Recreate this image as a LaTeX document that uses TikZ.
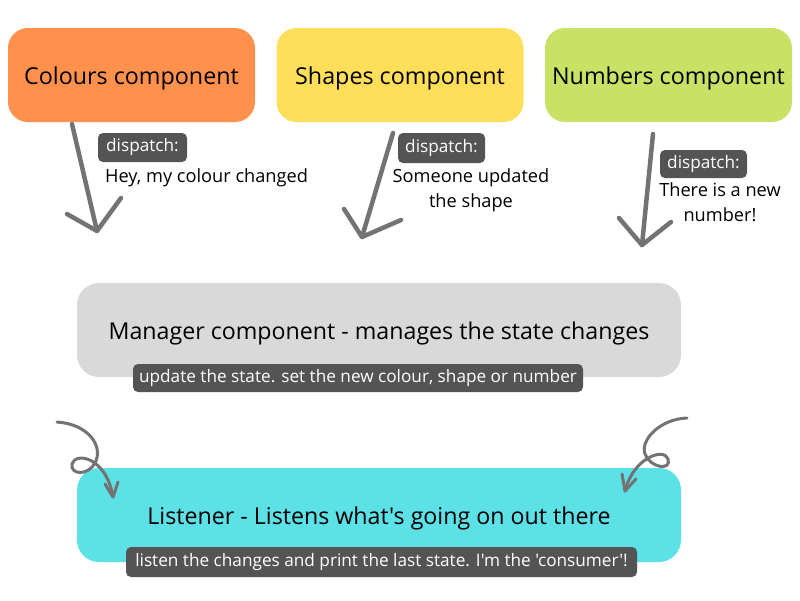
\documentclass[tikz,border=0pt]{standalone}
\usepackage{fontspec}
\setmainfont{Open Sans}[Ligatures=TeXOff]
\definecolor{corange}{HTML}{FF914D}
\definecolor{cyellow}{HTML}{FFDE59}
\definecolor{cgreen}{HTML}{C9E265}
\definecolor{cgray}{HTML}{D9D9D9}
\definecolor{ccyan}{HTML}{5CE1E6}
\definecolor{cdark}{HTML}{545454}
\definecolor{carrow}{HTML}{737373}
\begin{document}
\begin{tikzpicture}[x=1pt,y=-1pt,
  topbox/.style={rounded corners=20pt,minimum width=247pt,minimum height=94pt,inner sep=0pt,text depth=0pt,font=\fontsize{23.3}{28}\selectfont},
  widebox/.style={rounded corners=22pt,minimum width=604pt,minimum height=94pt,inner sep=0pt,text depth=0pt,font=\fontsize{23.2}{28}\selectfont},
  tag/.style={fill=cdark,text=white,rounded corners=5pt,inner sep=0pt,font=\fontsize{17.2}{20}\selectfont},
  msg/.style={align=center,inner sep=0pt,font=\fontsize{18.2}{25}\selectfont},
  brush/.style={draw=carrow,line width=4.5pt,line cap=round,line join=round},
  curl/.style={draw=carrow,line width=3pt,line cap=round,line join=round}]
\useasboundingbox (0,0) rectangle (800,600);
\fill[white] (0,0) rectangle (800,600);
% top boxes
\node[topbox,fill=corange] (colours) at (131.5,75) {\raisebox{-2pt}{Colours component}};
\node[topbox,fill=cyellow] (shapes) at (400,75) {\raisebox{-2pt}{Shapes component}};
\node[topbox,fill=cgreen] (numbers) at (668.5,75) {\raisebox{-2pt}{Numbers component}};
% manager and listener
\node[widebox,fill=cgray] (manager) at (379,330) {\raisebox{-1pt}{Manager component - manages the state changes}};
\node[tag,minimum width=450pt,minimum height=28pt] (mtag) at (358,378) {update the state. set the new colour, shape or number};
\node[widebox,fill=ccyan] (listener) at (379,515) {\raisebox{-1pt}{Listener - Listens what's going on out there}};
\node[tag,minimum width=511pt,minimum height=30pt] (ltag) at (381.5,562) {listen the changes and print the last state. I'm the 'consumer'!};
% dispatch labels
\node[tag,minimum width=89pt,minimum height=29pt] (d1) at (142.5,147.5) {dispatch:};
\node[msg,anchor=west] (m1) at (105,178) {Hey, my colour changed};
\node[tag,minimum width=87pt,minimum height=30pt] (d2) at (441.5,148) {dispatch:};
\node[msg] (m2) at (471,190) {Someone updated\\the shape};
\node[tag,minimum width=87pt,minimum height=28pt] (d3) at (703.5,164) {dispatch:};
\node[msg] (m3) at (720,202) {There is a new\\number!};
% straight arrows
\coordinate (s1) at (72,124);
\coordinate (t1) at (97,231);
\coordinate (s2) at (393,133);
\coordinate (t2) at (362,237);
\coordinate (s3) at (653,134);
\coordinate (t3) at (642,245);
\draw[brush] (s1) -- (t1);
\draw[brush] (67,214) -- (t1) -- (121,198);
\draw[brush] (s2) -- (t2);
\draw[brush] (344,209) -- (t2) -- (401,220);
\draw[brush] (s3) -- (t3);
\draw[brush] (619,218) -- (t3) -- (671,222);
% curly arrows
\coordinate (c1) at (57,422);
\coordinate (e1) at (113,497);
\draw[curl] (c1) .. controls (88,424) and (104,446) .. (95,463)
  .. controls (88,476) and (70,475) .. (72,464)
  .. controls (75,452) and (106,456) .. (e1);
\draw[curl] (105,484) -- (e1) -- (118,482);
\coordinate (c2) at (687,418);
\coordinate (e2) at (625,491);
\draw[curl] (c2) .. controls (660,419) and (640,440) .. (645,454)
  .. controls (650,468) and (672,471) .. (668,459)
  .. controls (664,447) and (633,458) .. (e2);
\draw[curl] (622,474) -- (e2) -- (636,479);
\end{tikzpicture}
\end{document}
